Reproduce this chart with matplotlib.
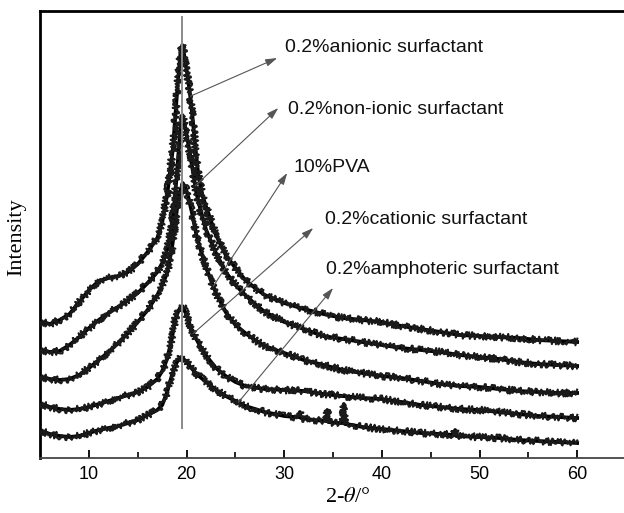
import numpy as np
import matplotlib
matplotlib.use("Agg")
import matplotlib.pyplot as plt

plt.rcParams['font.family'] = ['Liberation Sans', 'DejaVu Sans']
plt.rcParams['mathtext.fontset'] = 'stix'

# ---- data (2-theta in degrees, intensity in arbitrary units) ----
anionic_x = [5, 6, 7, 8, 9, 10, 11, 12, 13, 14, 15, 16, 17, 17.5, 18, 18.3, 18.6, 18.85, 19.1, 19.35,
             19.55, 19.75, 20.0, 20.3, 20.6, 20.9, 21.2, 21.6, 22, 23, 24, 25, 26, 27, 28, 30, 32, 34,
             36, 38, 40, 42, 44, 46, 48, 50, 52, 54, 56, 58, 60]
anionic_y = [136, 134, 138, 144, 156, 168, 177, 180, 182, 186, 194, 206, 220, 236, 263, 286, 310, 343, 376, 403,
             413, 403, 388, 368, 341, 310, 283, 263, 251, 223, 203, 190, 178, 170, 163, 155, 149, 144,
             140, 138, 136, 132, 129, 126, 123, 122, 121, 120, 118, 117, 116]

nonionic_x = [5, 6, 7, 8, 9, 10, 11, 12, 13, 14, 15, 16, 17, 17.5, 18, 18.5, 18.8, 19.1, 19.35, 19.55,
              19.8, 20.1, 20.5, 21, 21.5, 22, 23, 24, 25, 26, 27, 28, 30, 32, 34, 36, 38, 40, 42, 44,
              46, 48, 50, 52, 54, 56, 58, 60]
nonionic_y = [108, 106, 107, 113, 121, 130, 138, 145, 151, 158, 165, 175, 186, 195, 208, 233, 261, 296, 328, 343,
              333, 318, 295, 265, 245, 228, 205, 186, 173, 163, 154, 146, 136, 129, 122, 119, 116, 113, 110, 108,
              106, 103, 101, 99, 96, 94, 93, 92]

pva_x = [5, 6, 7, 8, 9, 10, 11, 12, 13, 14, 15, 16, 17, 17.5, 18, 18.5, 19, 19.3, 19.6, 19.9, 20.2, 20.6,
         21, 21.5, 22, 23, 24, 25, 26, 27, 28, 30, 32, 34, 36, 38, 40, 42, 44, 46, 48, 50, 52, 54, 56, 58, 60]
pva_y = [81, 79, 78, 79, 83, 90, 98, 106, 115, 125, 136, 148, 163, 173, 185, 210, 248, 265, 275, 270, 260, 243,
         223, 206, 190, 165, 146, 133, 125, 118, 112, 105, 98, 93, 88, 85, 82, 80, 77, 74, 72, 71, 69, 67, 66, 65, 65]

cationic_x = [5, 6, 7, 8, 9, 10, 11, 12, 13, 14, 15, 16, 17, 17.5, 18, 18.5, 18.8, 19.2, 19.55, 19.9, 20.3,
              20.7, 21.5, 22.1, 23, 24, 25, 26, 28, 30, 32, 34, 36, 38, 40, 42, 44, 46, 48, 50, 52, 54, 56, 58, 60]
cationic_y = [54, 51, 49, 48, 49, 51, 54, 57, 60, 63, 66, 71, 79, 87, 99, 120, 138, 148, 152, 145, 134,
              124, 110, 101, 90, 82, 76, 72, 69, 68, 67, 64, 62, 60, 59, 56, 53, 51, 49, 48, 46, 44, 42, 41, 40]

amphoteric_x = [5, 6, 7, 8, 9, 10, 11, 12, 13, 14, 15, 16, 17, 17.5, 18, 18.5, 19.0, 19.45, 19.9, 20.4, 21,
                22, 23, 24, 25, 26, 27, 28, 29, 30, 31, 31.5, 31.6, 31.7, 33, 34.3, 34.4, 34.5, 35.5, 36.0,
                36.1, 36.2, 37, 38, 40, 42, 44, 46, 47.4, 47.5, 47.6, 50, 52, 54, 56, 58, 60]
amphoteric_y = [27, 24, 22, 21, 22, 25, 28, 30, 32, 35, 38, 43, 48, 53, 66, 83, 96, 101, 97, 91, 84,
                76, 68, 62, 57, 52, 49, 46, 44, 42, 41, 41, 46, 40, 38, 37, 48, 36, 35, 35,
                54, 34, 33, 31, 29, 27, 25, 24, 23, 28, 22, 21, 20, 18, 17, 16, 15]

labels = ["0.2%anionic surfactant", "0.2%non-ionic surfactant", "10%PVA",
          "0.2%cationic surfactant", "0.2%amphoteric surfactant"]
series = [(anionic_x, anionic_y), (nonionic_x, nonionic_y), (pva_x, pva_y),
          (cationic_x, cationic_y), (amphoteric_x, amphoteric_y)]
peak_position = 19.5
x_ticks = [10, 20, 30, 40, 50, 60]

# ---- figure ----
fig = plt.figure(figsize=(6.24, 5.13), dpi=100)
ax = fig.add_axes([40 / 624, 1 - 458 / 513, 1 - 40 / 624, (458 - 11) / 513])
ax.set_xlim(4.98, 64.8)
ax.set_ylim(0, 447)

for xs, ys in series:
    ax.plot(xs, ys, color='black', lw=2.7, solid_joinstyle='round', zorder=3)
    fuzz, = ax.plot(xs, ys, color='#1a1a1a', lw=1.5, zorder=3)
    fuzz.set_sketch_params(scale=3.5, length=1.0, randomness=4)

ax.plot([peak_position, peak_position], [30, 441], color='#8a8a8a', lw=1.4, zorder=4)

# annotations: (x on curve, arrow tip, text position)
arrow_specs = [
    (20.37, (29.28, 400), (30.1, 411)),
    (20.88, (29.39, 350), (30.4, 348)),
    (22.73, (30.3, 285), (30.92, 290)),
    (20.68, (32.97, 230), (34.2, 238)),
    (25.29, (35.0, 170), (34.3, 188)),
]
for (xs, ys), lab, (x0, tip, txt) in zip(series, labels, arrow_specs):
    y0 = np.interp(x0, xs, ys)
    ax.annotate('', xy=tip, xytext=(x0, y0),
                arrowprops=dict(arrowstyle='-|>,head_length=0.7,head_width=0.22',
                                color='#555555', lw=0.8, shrinkA=0, shrinkB=0))
    ax.text(txt[0], txt[1], lab, fontsize=14, ha='left', va='center', color='#111111')

for s in ['left', 'top']:
    ax.spines[s].set_linewidth(2.0)
ax.spines['bottom'].set_linewidth(1.3)
ax.spines['bottom'].set_color('#444444')
ax.spines['right'].set_visible(False)

ax.set_xticks(x_ticks)
ax.set_xticks([15, 25, 35, 45, 55], minor=True)
ax.tick_params(axis='x', which='major', direction='in', length=6, width=1.3, labelsize=13, pad=6)
ax.tick_params(axis='x', which='minor', direction='in', length=4, width=1.2)
ax.set_yticks([])

fig.text(348 / 624, 1 - 498 / 513, r"2-$\theta$/°", family='Liberation Serif', fontsize=16,
         ha='center', va='center')
fig.text(17 / 624, 1 - 237 / 513, "Intensity", family='Liberation Serif', fontsize=16,
         rotation=90, ha='center', va='center')

fig.savefig("out.png", dpi=100)
